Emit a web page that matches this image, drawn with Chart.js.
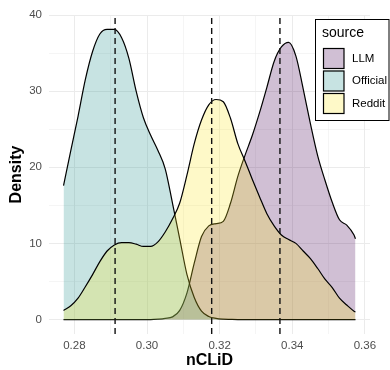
<!DOCTYPE html>
<html>
<head>
<meta charset="utf-8">
<script src="https://cdn.jsdelivr.net/npm/chart.js@4.4.1/dist/chart.umd.min.js"></script>
<style>
  html, body { margin: 0; padding: 0; background: #fff; }
</style>
</head>
<body>
<canvas id="myChart" width="390" height="370"></canvas>
<script>
// nCLiD grid the densities were read at
var xs = [0.277, 0.279, 0.281, 0.283, 0.285, 0.287, 0.289, 0.291, 0.293, 0.295,
          0.297, 0.299, 0.301, 0.303, 0.305, 0.307, 0.309, 0.311, 0.313, 0.315,
          0.317, 0.319, 0.321, 0.323, 0.325, 0.327, 0.329, 0.331, 0.333, 0.335,
          0.337, 0.339, 0.341, 0.343, 0.345, 0.347, 0.349, 0.351, 0.353, 0.355,
          0.357, 0.3574];

var llm = [0, 0, 0, 0, 0, 0, 0, 0, 0, 0,
           0, 0, 0, 0.05, 0.15, 0.35, 1.2, 3.5, 7.4, 10.9,
           12.3, 12.6, 12.9, 15.3, 18.8, 21.6, 24.2, 27.2, 30.5, 33.9,
           35.8, 36.4, 34.6, 30.3, 25.7, 21.5, 18.3, 15.4, 13.1, 12.4,
           11.1, 10.6];

var official = [17.6, 22.2, 26.7, 31.5, 35.2, 37.5, 38.1, 38.1, 37.0, 34.3,
                30.0, 26.5, 24.2, 22.2, 19.8, 15.3, 10.6, 5.9, 2.9, 1.1,
                0.4, 0.15, 0.05, 0.02, 0, 0, 0, 0, 0, 0,
                0, 0, 0, 0, 0, 0, 0, 0, 0, 0,
                0, 0];

var reddit = [1.2, 1.8, 2.8, 4.3, 5.9, 7.6, 9.0, 9.8, 10.1, 10.1,
              9.9, 9.6, 9.6, 10.2, 11.5, 13.2, 15.3, 19.0, 23.1, 26.2,
              28.2, 28.9, 28.6, 26.4, 23.1, 20.8, 18.4, 16.1, 13.9, 12.3,
              11.1, 10.5, 10.0, 9.0, 8.0, 6.7, 5.3, 4.2, 2.8, 1.9,
              1.1, 1.0];

var sources = ['LLM', 'Official', 'Reddit'];
var means = [0.3366, 0.2912, 0.3178];   // LLM, Official, Reddit

var xTicks = [0.28, 0.29, 0.30, 0.31, 0.32, 0.33, 0.34, 0.35, 0.36];
var xTickLabels = ['0.28', '', '0.30', '', '0.32', '', '0.34', '', '0.36'];
var yTicks = [0, 5, 10, 15, 20, 25, 30, 35, 40];
var yTickLabels = ['0', '', '10', '', '20', '', '30', '', '40'];

// viridis ends + middle, alpha .25
var fills = ['rgba(68,1,84,0.25)', 'rgba(33,144,140,0.25)', 'rgba(253,231,37,0.25)'];
var series = [llm, official, reddit];

var xMin = 0.273, xMax = 0.3614, yMin = -1.9, yMax = 40;

Chart.defaults.font.family = '"Liberation Sans", Arial, Helvetica, sans-serif';

var densitySets = sources.map((s, i) => {
  return {
    label: s,
    data: xs.map((x, j) => ({ x: x, y: series[i][j] })),
    backgroundColor: fills[i],
    borderColor: '#000',
    borderWidth: 1.2,
    fill: 'origin',
    pointRadius: 0,
    cubicInterpolationMode: 'monotone',
    order: 3 - i
  }
});

var meanSets = means.map(m => {
  return {
    label: '',
    data: [{ x: m, y: yMin }, { x: m, y: yMax }],
    borderColor: '#111',
    borderWidth: 1.4,
    borderDash: [6, 4],
    pointRadius: 0,
    fill: false,
    order: 0
  }
});

// ggplot style legend box inside the panel
var legendBox = {
  id: 'legendBox',
  afterDraw(chart) {
    var ctx = chart.ctx;
    ctx.save();
    ctx.fillStyle = '#fff';
    ctx.fillRect(315, 19, 74, 102);
    ctx.strokeStyle = '#000';
    ctx.lineWidth = 1;
    ctx.strokeRect(315.5, 19.5, 73.5, 101);

    ctx.fillStyle = '#000';
    ctx.textBaseline = 'middle';
    ctx.textAlign = 'left';
    ctx.font = '14px "Liberation Sans", Arial, sans-serif';
    ctx.fillText('source', 322, 33);

    ctx.font = '11.5px "Liberation Sans", Arial, sans-serif';
    sources.forEach((s, i) => {
      var top = 48 + i * 22.5;
      ctx.fillStyle = '#fff';
      ctx.fillRect(323, top, 21, 20.5);
      ctx.fillStyle = fills[i];
      ctx.fillRect(323, top, 21, 20.5);
      ctx.strokeStyle = '#000';
      ctx.lineWidth = 1.2;
      ctx.strokeRect(323.5, top + 0.5, 20.5, 20);
      ctx.fillStyle = '#000';
      ctx.fillText(s, 352, top + 10.5);
    });
    ctx.restore();
  }
};

var ctx = document.getElementById('myChart').getContext('2d');

var myChart = new Chart(ctx, {
  type: 'line',
  data: { datasets: densitySets.concat(meanSets) },
  options: {
    responsive: false,
    animation: false,
    layout: { padding: { top: 15, right: 20, left: 0, bottom: 0 } },
    plugins: {
      legend: { display: false },
      tooltip: { enabled: false }
    },
    scales: {
      x: {
        type: 'linear',
        min: xMin,
        max: xMax,
        afterBuildTicks: s => { s.ticks = xTicks.map(v => ({ value: v })); },
        afterFit: s => { s.height = 36; },
        ticks: {
          autoSkip: false,
          maxRotation: 0,
          padding: 5,
          color: '#4D4D4D',
          font: { size: 11.5 },
          callback: (v, i) => xTickLabels[i]
        },
        grid: {
          color: '#EBEBEB',
          lineWidth: c => (c.index % 2 === 0 ? 1 : 0.5),
          drawTicks: false
        },
        border: { display: false },
        title: {
          display: true,
          text: 'nCLiD',
          color: '#000',
          font: { size: 16, weight: 'bold' },
          padding: { top: 0, bottom: 0 }
        }
      },
      y: {
        type: 'linear',
        min: yMin,
        max: yMax,
        afterBuildTicks: s => { s.ticks = yTicks.map(v => ({ value: v })); },
        afterFit: s => { s.width = 49; },
        ticks: {
          autoSkip: false,
          padding: 7,
          color: '#4D4D4D',
          font: { size: 11.5 },
          callback: (v, i) => yTickLabels[i]
        },
        grid: {
          color: '#EBEBEB',
          lineWidth: c => (c.index % 2 === 0 ? 1 : 0.5),
          drawTicks: false
        },
        border: { display: false },
        title: {
          display: true,
          text: 'Density',
          color: '#000',
          font: { size: 16, weight: 'bold' },
          padding: { top: 7, bottom: 0 }
        }
      }
    }
  },
  plugins: [legendBox]
});
</script>
</body>
</html>
